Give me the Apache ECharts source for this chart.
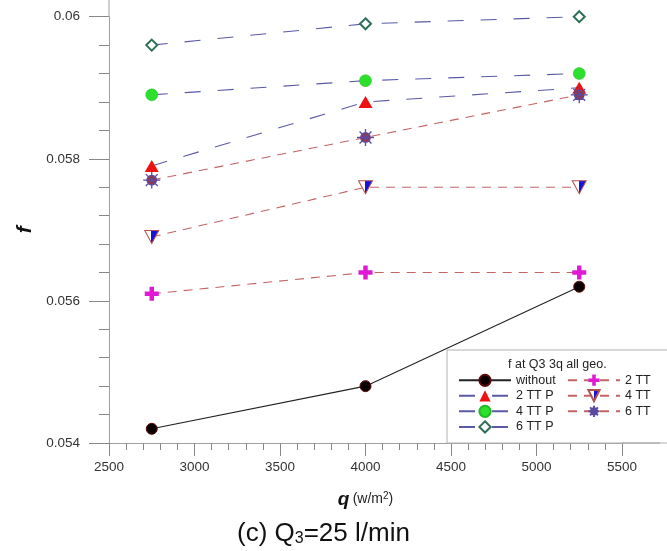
<!DOCTYPE html>
<html>
<head>
<meta charset="utf-8">
<script src="https://cdn.jsdelivr.net/npm/echarts@6/dist/echarts.min.js"></script>
<style>
  html, body { margin: 0; padding: 0; background: #fff; }
  #chart { width: 667px; height: 551px; }
</style>
</head>
<body>
<div id="chart"></div>
<script>
// Heat flux q (W/m2) at which the friction factor f was measured
const heatFlux = [2750, 4000, 5250];

// Friction factor f for each tube geometry
const fWithout = [0.0542, 0.0548, 0.0562];
const f2TTP    = [0.0579, 0.0588, 0.0590];
const f4TTP    = [0.0589, 0.0591, 0.0592];
const f6TTP    = [0.0596, 0.0599, 0.0600];
const f2TT     = [0.0561, 0.0564, 0.0564];
const f4TT     = [0.0569, 0.0576, 0.0576];
const f6TT     = [0.0577, 0.0583, 0.0589];

// Axis ranges and tick steps
const xRange = [2500, 5500];
const xStep = 500;
const yRange = [0.054, 0.060];
const yStep = 0.002;

const FONT = '"Liberation Sans", Arial, Helvetica, sans-serif';
const BLUE_DASH = '#5a5aa8';
const RED_DASH = '#c46464';
const AXIS_GREY = '#a0a0a0';

const pairs = vals => heatFlux.map((x, i) => [x, vals[i]]);

// Marker shapes
const PLUS = 'path://M3.4,0 H6.6 V3.4 H10 V6.6 H6.6 V10 H3.4 V6.6 H0 V3.4 H3.4 Z';
const STAR = 'path://M5,0 L5,10 M0,5 L10,5 M1.5,1.5 L8.5,8.5 M1.5,8.5 L8.5,1.5 ' +
             'M7.8,5 A2.8,2.8 0 1 1 2.2,5 A2.8,2.8 0 1 1 7.8,5 Z';
const DOWN_TRI = 'path://M0,0 L10,0 L5,9 Z';

const halfFill = new echarts.graphic.LinearGradient(0, 0, 1, 0, [
  { offset: 0, color: '#ffffff' },
  { offset: 0.48, color: '#ffffff' },
  { offset: 0.48, color: '#1414d8' },
  { offset: 1, color: '#1414d8' }
]);

function lineSeries(name, vals, color, dash, symbol, size, itemStyle, z) {
  return {
    name: name,
    type: 'line',
    data: pairs(vals),
    symbol: symbol,
    symbolSize: size,
    showAllSymbol: true,
    z: z || 3,
    lineStyle: { color: color, width: 1.1, type: dash },
    itemStyle: Object.assign({ opacity: 1 }, itemStyle),
    emphasis: { disabled: true },
    animation: false
  };
}

const series = [
  lineSeries('without', fWithout, '#222222', 'solid', 'circle', 11,
             { color: '#080000', borderColor: '#5a0a0a', borderWidth: 1 }),
  lineSeries('2 TT P', f2TTP, BLUE_DASH, [16, 17], 'triangle', [14, 12],
             { color: '#ee1111', borderWidth: 0 }),
  lineSeries('4 TT P', f4TTP, BLUE_DASH, [16, 17], 'circle', 12,
             { color: '#2ee02e', borderColor: '#22bb22', borderWidth: 0.5 }),
  lineSeries('6 TT P', f6TTP, BLUE_DASH, [16, 17], 'diamond', 11,
             { color: '#ffffff', borderColor: '#2c7055', borderWidth: 2 }),
  lineSeries('2 TT', f2TT, RED_DASH, [9, 7], PLUS, 14,
             { color: '#e01ad4', borderWidth: 0 }),
  lineSeries('4 TT', f4TT, RED_DASH, [9, 7], DOWN_TRI, [14, 13],
             { color: halfFill, borderColor: '#b05050', borderWidth: 1 }),
  lineSeries('6 TT', f6TT, RED_DASH, [9, 7], STAR, 17,
             { color: '#a8302a', borderColor: '#5a4aa0', borderWidth: 1.3 })
];

const legendText = { fontFamily: FONT, fontSize: 12.5, color: '#222' };
const legendCommon = {
  orient: 'vertical',
  itemWidth: 52,
  itemHeight: 14,
  itemGap: 2.4,
  padding: 0,
  selectedMode: false,
  textStyle: legendText,
  top: 373.7
};

const option = {
  animation: false,
  backgroundColor: '#ffffff',
  grid: { left: 109, right: 45, top: 16.7, bottom: 108, containLabel: false },
  xAxis: {
    type: 'value',
    min: xRange[0],
    max: xRange[1],
    interval: xStep,
    axisLine: { show: true, onZero: false, lineStyle: { color: AXIS_GREY, width: 1 } },
    axisTick: { show: true, inside: false, length: 13, lineStyle: { color: '#888' } },
    minorTick: { show: true, splitNumber: 5, length: 7, lineStyle: { color: '#888' } },
    splitLine: { show: false },
    axisLabel: { fontFamily: FONT, fontSize: 13.5, color: '#333', margin: 17, formatter: v => String(v) },
    name: '{q|q} {u|(w/m}{s|2}{u|)}',
    nameLocation: 'middle',
    nameGap: 47,
    nameTextStyle: {
      rich: {
        q: { fontFamily: FONT, fontSize: 19, fontWeight: 'bold', fontStyle: 'italic', color: '#111' },
        u: { fontFamily: FONT, fontSize: 14, color: '#222' },
        s: { fontFamily: FONT, fontSize: 10, color: '#222', padding: [0, 0, 7, 0] }
      }
    }
  },
  yAxis: {
    type: 'value',
    min: yRange[0],
    max: yRange[1],
    interval: yStep,
    axisLine: { show: true, onZero: false, lineStyle: { color: AXIS_GREY, width: 1 } },
    axisTick: { show: true, inside: false, length: 20, lineStyle: { color: '#888' } },
    minorTick: { show: true, splitNumber: 5, length: 10, lineStyle: { color: '#888' } },
    splitLine: { show: false },
    axisLabel: {
      fontFamily: FONT, fontSize: 13.5, color: '#333', margin: 29,
      formatter: v => String(+v.toFixed(3))
    },
    name: 'f',
    nameLocation: 'middle',
    nameRotate: 90,
    nameGap: 72,
    nameTextStyle: { fontFamily: FONT, fontSize: 21, fontWeight: 'bold', fontStyle: 'italic', color: '#111' }
  },
  legend: [
    Object.assign({ left: 458, data: ['without', '2 TT P', '4 TT P', '6 TT P'] }, legendCommon),
    Object.assign({ left: 567, data: ['2 TT', '4 TT', '6 TT'] }, legendCommon)
  ],
  graphic: [
    // legend frame and heading
    { type: 'rect', z: 1, shape: { x: 447, y: 350, width: 240, height: 93 },
      style: { fill: '#ffffff', stroke: '#b0b0b0', lineWidth: 1 } },
    { type: 'text', z: 5, left: 508, top: 358,
      style: { text: 'f at Q3 3q all geo.', fontFamily: FONT, fontSize: 12.5, fill: '#222' } },
    // axis lines continue past the last labelled ticks
    { type: 'line', z: 5, shape: { x1: 109, y1: 0, x2: 109, y2: 17 },
      style: { stroke: AXIS_GREY, lineWidth: 1 } },
    { type: 'line', z: 5, shape: { x1: 622, y1: 443, x2: 660, y2: 443 },
      style: { stroke: AXIS_GREY, lineWidth: 1 } },
    // panel caption
    { type: 'text', z: 5, left: 237, top: 521,
      style: {
        text: '{m|(c) Q}{sub|3}{m|=25 l/min}',
        rich: {
          m: { fontFamily: FONT, fontSize: 26, fill: '#111' },
          sub: { fontFamily: FONT, fontSize: 16, fill: '#111', padding: [9, 0, 0, 0] }
        }
      }
    }
  ],
  series: series
};

const chart = echarts.init(document.getElementById('chart'), null, { renderer: 'canvas' });
chart.setOption(option);
</script>
</body>
</html>
